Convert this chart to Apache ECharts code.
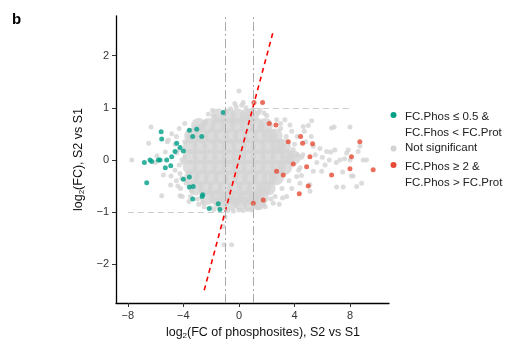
<!DOCTYPE html>
<html>
<head>
<meta charset="utf-8">
<script src="https://cdn.jsdelivr.net/npm/echarts@6/dist/echarts.min.js"></script>
<style>
  html, body { margin: 0; padding: 0; background: #fff; }
  #chart { width: 516px; height: 351px; }
</style>
</head>
<body>
<div id="chart"></div>
<script>
// tick values
var xTicks = [-8, -4, 0, 4, 8]
var yTicks = [-2, -1, 0, 1, 2]

// dense grey core of the cloud (drawn with big dots)
var greyCore = [
  [-1.5, 0.84], [-0.8, 0.84], [-0.1, 0.84], [0.6, 0.84], [0.9, 0.84],
  [-2.9, 0.66], [-2.2, 0.66], [-1.5, 0.66], [-0.8, 0.66], [-0.1, 0.66], [0.6, 0.66], [1.3, 0.66], [1.9, 0.66],
  [-3.4, 0.46], [-2.7, 0.46], [-2.0, 0.46], [-1.3, 0.46], [-0.6, 0.46], [0.1, 0.46], [0.8, 0.46], [1.5, 0.46], [2.2, 0.46], [2.6, 0.46],
  [-3.5, 0.26], [-2.8, 0.26], [-2.1, 0.26], [-1.4, 0.26], [-0.7, 0.26], [0, 0.26], [0.7, 0.26], [1.4, 0.26], [2.1, 0.26], [2.8, 0.26], [3.2, 0.26],
  [-3.5, 0.06], [-2.8, 0.06], [-2.1, 0.06], [-1.4, 0.06], [-0.7, 0.06], [0, 0.06], [0.7, 0.06], [1.4, 0.06], [2.1, 0.06], [2.8, 0.06], [3.5, 0.06], [3.9, 0.04],
  [-3.5, -0.14], [-2.8, -0.14], [-2.1, -0.14], [-1.4, -0.14], [-0.7, -0.14], [0, -0.14], [0.7, -0.14], [1.4, -0.14], [2.1, -0.14], [2.8, -0.14], [3.3, -0.14],
  [-3.4, -0.34], [-2.7, -0.34], [-2.0, -0.34], [-1.3, -0.34], [-0.6, -0.34], [0.1, -0.34], [0.8, -0.34], [1.5, -0.34], [2.2, -0.34], [2.7, -0.34],
  [-3.1, -0.54], [-2.4, -0.54], [-1.7, -0.54], [-1.0, -0.54], [-0.3, -0.54], [0.4, -0.54], [1.1, -0.54], [1.8, -0.54], [2.1, -0.54],
  [-2.3, -0.72], [-1.6, -0.72], [-0.9, -0.72], [-0.2, -0.72], [0.5, -0.72], [1.2, -0.72], [1.6, -0.72],
  [-1.3, -0.82], [-0.6, -0.82], [0.1, -0.82], [0.8, -0.82], [1.4, -0.82]
]

// scattered grey points around the core
var greyFringe = [
  [0, 1.32], [0.31, 1.1], [-0.2, 1.02], [0.5, 1.0], [-0.6, 0.98], [0.9, 0.95],
  [-2.2, 0.88], [-1.9, 0.95], [1.5, 0.95], [1.8, 0.9], [-0.3, 1.08], [0.2, 1.05],
  [-7.72, 0], [-6.33, 0.63], [-6.5, 0.32], [-5.44, -0.29], [-5.56, -0.69], [-4.92, -0.48],
  [-4.24, -0.26], [-4.24, -0.69], [-4.48, 0.13], [-5.08, 0.38], [-3.5, 0.57], [-2.8, 0.64],
  [-1.73, 0.83], [-0.89, 0.93], [-4.84, 0.5], [-5.16, 0.35], [-4.89, -0.31], [-4.12, -0.35],
  [-4.08, -0.7], [-3.9, 0.35], [-4.0, -0.05], [-3.9, 0.05], [-4.3, -0.1], [-3.8, -0.45],
  [-3.4, -0.6], [-3.0, -0.75], [-2.6, -0.82], [-3.6, 0.45], [-3.1, 0.62], [-2.4, 0.72],
  [-5.9, 0.08], [-6.0, -0.05], [-5.3, 0.15], [-4.6, 0.3], [-4.4, -0.5], [-3.6, -0.8],
  [-2.5, -0.9], [-1.8, -0.95], [-4.5, 0.45], [-4.3, 0.6], [-4.6, -0.2], [-4.5, -0.4],
  [-4.2, -0.55], [-4.1, 0.0], [-4.3, 0.2], [-3.9, 0.7], [-3.5, -0.7], [-2.9, -0.85],
  [-1.13, -1.28], [-1.08, -1.63], [-0.53, -1.63], [-1.0, -1.1], [-0.4, -0.98], [0.3, -0.97],
  [0.9, -0.96], [1.4, -0.92], [-2.0, -0.92], [-0.8, -0.97], [0, -0.96], [0.6, -0.95],
  [1.9, -0.9], [2.3, -0.75],
  [2.71, 0.77], [3.31, 0.77], [5.23, 0.75], [6.67, 0.61], [6.85, 0.63], [7.99, 0.63],
  [5.35, 0.26], [6.31, 0.16], [6.9, 0.19], [7.87, 0.19], [8.58, 0.16], [8.71, 0.26],
  [8.94, 0], [9.18, 0], [7.27, 0], [8.47, -0.51], [8.83, -0.45], [7.03, -0.52], [7.5, -0.52],
  [5.11, -0.6], [4.39, -0.45], [4.15, -0.32], [5.35, -0.22], [5.95, -0.22], [3.43, -0.7],
  [3.14, -0.73], [2.47, -0.83], [1.75, -0.86], [5.0, 0.66], [5.83, 0.22], [6.6, 0.15],
  [7.75, 0.13], [8.22, -0.31], [8.1, -0.31], [7.46, -0.23], [5.1, -0.47], [2.0, 0.85],
  [1.4, 0.9], [3.8, 0.55], [4.2, 0.45], [4.8, 0.35], [5.5, 0.1], [6.0, 0.05], [6.5, 0.0],
  [7.0, -0.05], [7.6, 0.02], [8.0, 0.0], [5.6, -0.05], [4.6, 0.1], [4.4, -0.15], [4.0, 0.3],
  [3.67, 0.67], [4.63, 0.64], [3.0, 0.7], [4.5, -0.3], [3.8, -0.55], [2.9, -0.85],
  [4.7, 0.55], [6.2, -0.1], [5.2, 0.45], [3.0, 0.6], [3.4, 0.45], [3.9, 0.2], [4.2, 0.1],
  [4.5, 0.05], [4.3, -0.2], [3.6, -0.4], [3.1, -0.55], [2.6, -0.7]
]

// FC.Phos <= 0.5 & FC.Phos < FC.Prot
var tealPts = [
  [-1.13, 0.91], [-5.6, 0.54], [-5.56, 0.4], [-4.48, 0.32], [-4.6, 0.16], [-4.0, 0.17],
  [-4.84, 0.06], [-5.8, 0], [-5.68, 0], [-6.4, 0], [-6.81, -0.05], [-6.28, -0.03],
  [-5.2, 0], [-5.3, -0.15], [-4.91, -0.11], [-6.64, -0.44], [-3.57, 0.57], [-3.04, 0.59],
  [-3.33, 0.45], [-2.68, 0.45], [-4.0, -0.37], [-3.57, -0.33], [-3.57, -0.52], [-3.29, -0.51],
  [-2.61, -0.67], [-2.65, -0.7], [-3.33, -0.75], [-2.14, -0.93], [-1.49, -0.84], [-1.37, -0.95],
  [-4.24, 0.24]
]

// FC.Phos >= 2 & FC.Phos > FC.Prot
var redPts = [
  [1.08, 1.1], [1.7, 1.1], [2.66, 0.67], [2.18, 0.7], [4.44, 0.45], [4.58, 0.32],
  [5.3, 0.31], [3.55, 0.35], [5.11, 0.06], [3.91, -0.08], [8.7, 0.35], [8.1, 0.06],
  [7.99, -0.17], [6.67, -0.29], [4.99, -0.5], [4.34, -0.65], [1.75, -0.77], [1.03, -0.83],
  [2.71, -0.22], [3.19, -0.29], [9.66, -0.19], [4.87, -0.13]
]

// guide lines
var diagLine = [[-2.5, -2.5], [2.5, 2.5]]
var vLines = [-1, 1]
var hSegUpper = [[1, 1], [8, 1]]
var hSegLower = [[-8, -1], [-1, -1]]

var chart = echarts.init(document.getElementById('chart'))

var font = 'Liberation Sans, Arial, sans-serif'
var grey = '#d3d3d3'
var teal = '#00a087'
var red = '#e64b35'

var option = {
  animation: false,
  textStyle: { fontFamily: font },
  grid: { left: 116, right: 127, top: 16, bottom: 48 },
  xAxis: {
    type: 'value',
    min: -8.85,
    max: 10.8,
    splitLine: { show: false },
    axisLine: { onZero: false, lineStyle: { color: '#000', width: 1.3 } },
    axisTick: { length: 4, customValues: xTicks, lineStyle: { color: '#333' } },
    axisLabel: {
      customValues: xTicks, margin: 7, fontSize: 11, color: '#333',
      formatter: function (v) { return String(v).replace('-', '\u2212') }
    },
    name: '{a|log}{s|2}{a|(FC of phosphosites), S2 vs S1}',
    nameLocation: 'middle',
    nameGap: 19,
    nameTextStyle: {
      padding: [0, 0, 0, 21],
      rich: {
        a: { fontSize: 12.5, color: '#111', fontFamily: font },
        s: { fontSize: 8, color: '#111', fontFamily: font, padding: [7, 0, 0, 0] }
      }
    }
  },
  yAxis: {
    type: 'value',
    min: -2.745,
    max: 2.76,
    splitLine: { show: false },
    axisLine: { onZero: false, lineStyle: { color: '#000', width: 1.3 } },
    axisTick: { length: 4, customValues: yTicks, lineStyle: { color: '#333' } },
    axisLabel: {
      customValues: yTicks, margin: 7, fontSize: 11, color: '#333',
      formatter: function (v) { return String(v).replace('-', '\u2212') }
    },
    name: '{a|log}{s|2}{a|(FC), S2 vs S1}',
    nameLocation: 'middle',
    nameRotate: 90,
    nameGap: 30,
    nameTextStyle: {
      rich: {
        a: { fontSize: 12.5, color: '#111', fontFamily: font },
        s: { fontSize: 8, color: '#111', fontFamily: font, padding: [7, 0, 0, 0] }
      }
    }
  },
  series: [
    {
      name: 'guides',
      type: 'line',
      data: [],
      z: 1,
      markLine: {
        silent: true,
        symbol: 'none',
        label: { show: false },
        lineStyle: { color: '#aaaaaa', width: 1, type: [9, 3, 2, 3] },
        data: vLines.map(function (v) { return { xAxis: v } }).concat([
          [{ coord: hSegUpper[0], lineStyle: { color: '#cccccc', type: [6, 4] } }, { coord: hSegUpper[1] }],
          [{ coord: hSegLower[0], lineStyle: { color: '#cccccc', type: [6, 4] } }, { coord: hSegLower[1] }]
        ])
      }
    },
    {
      name: 'core', type: 'scatter', data: greyCore, symbolSize: 15, z: 2,
      itemStyle: { color: grey }, silent: true
    },
    {
      name: 'Not significant', type: 'scatter', data: greyFringe, symbolSize: 5, z: 2,
      itemStyle: { color: grey }
    },
    {
      name: 'low', type: 'scatter', data: tealPts, symbolSize: 5, z: 3,
      itemStyle: { color: teal }
    },
    {
      name: 'high', type: 'scatter', data: redPts, symbolSize: 5, z: 3,
      itemStyle: { color: red }
    },
    {
      name: 'diag', type: 'line', data: diagLine, symbol: 'none', z: 4,
      lineStyle: { color: '#ff0000', width: 1.6, type: [5, 4] }
    }
  ],
  graphic: [
    { type: 'text', left: 12, top: 12, style: { text: 'b', font: 'bold 15px ' + font, fill: '#000' } },
    { type: 'circle', shape: { cx: 393.5, cy: 115, r: 3 }, style: { fill: teal } },
    { type: 'circle', shape: { cx: 393.5, cy: 148.5, r: 3 }, style: { fill: grey } },
    { type: 'circle', shape: { cx: 393.5, cy: 165, r: 3 }, style: { fill: red } },
    { type: 'text', left: 405, top: 108, style: { text: 'FC.Phos \u2264 0.5 &\nFC.Fhos < FC.Prot', font: '11.5px ' + font, fill: '#222', lineHeight: 16.7 } },
    { type: 'text', left: 405, top: 141.5, style: { text: 'Not significant', font: '11.5px ' + font, fill: '#222' } },
    { type: 'text', left: 405, top: 158, style: { text: 'FC.Phos \u2265 2 &\nFC.Phos > FC.Prot', font: '11.5px ' + font, fill: '#222', lineHeight: 16.7 } }
  ]
}

chart.setOption(option)
</script>
</body>
</html>
